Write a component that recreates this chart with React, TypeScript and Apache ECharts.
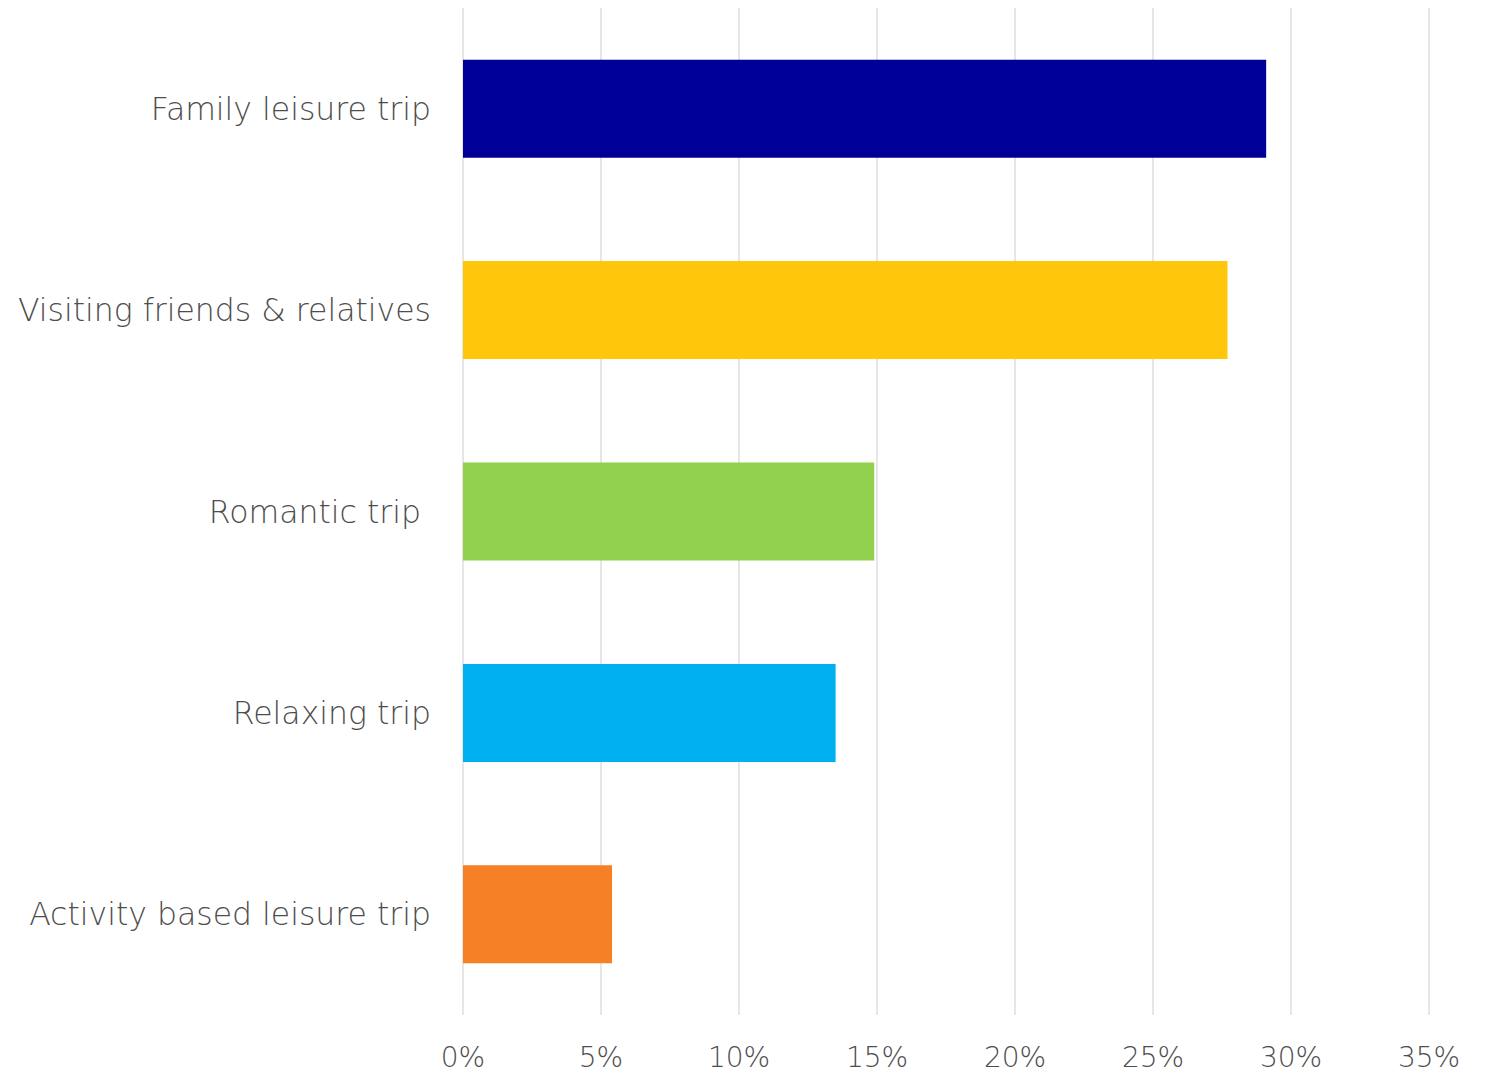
import React, { useEffect, useRef } from "react";
import * as echarts from "echarts";

const categories = [
  "Family leisure trip",
  "Visiting friends & relatives",
  "Romantic trip ",
  "Relaxing trip",
  "Activity based leisure trip",
];
const values = [29.1, 27.7, 14.9, 13.5, 5.4];
const colors = ["#000099", "#FFC60B", "#92D050", "#00B0F0", "#F58025"];
const axisMax = 35;
const axisStep = 5;

export default function App() {
  const ref = useRef<HTMLDivElement>(null);
  useEffect(() => {
    document.body.style.margin = "0";
    const chart = echarts.init(ref.current!, null, { renderer: "svg" });
    const font = "'DejaVu Sans', sans-serif";
    chart.setOption({
      animation: false,
      backgroundColor: "#ffffff",
      grid: { left: 463, right: 64, top: 8, bottom: 61, containLabel: false },
      xAxis: {
        type: "value",
        min: 0,
        max: axisMax,
        interval: axisStep,
        axisLine: { show: false },
        axisTick: { show: false },
        splitLine: { show: true, lineStyle: { color: "#dedede", width: 1.5 } },
        axisLabel: {
          formatter: (v: number) => v + "%",
          color: "#4d4d4d",
          fontFamily: font,
          fontWeight: 200,
          fontSize: 28,
          margin: 28,
        },
      },
      yAxis: {
        type: "category",
        inverse: true,
        data: categories,
        axisLine: { show: false },
        axisTick: { show: false },
        axisLabel: {
          color: "#4d4d4d",
          fontFamily: font,
          fontWeight: 200,
          fontSize: 31.5,
          margin: 32,
        },
      },
      series: [
        {
          type: "bar",
          barWidth: 98,
          data: values.map((v, i) => ({ value: v, itemStyle: { color: colors[i] } })),
        },
      ],
    });
    return () => chart.dispose();
  }, []);
  return <div ref={ref} style={{ width: 1493, height: 1076 }} />;
}
